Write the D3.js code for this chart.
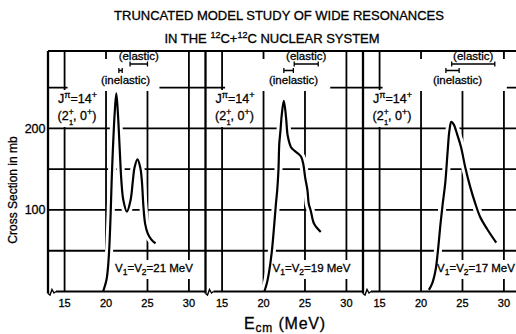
<!DOCTYPE html>
<html>
<head>
<meta charset="utf-8">
<script src="https://cdnjs.cloudflare.com/ajax/libs/d3/7.8.5/d3.min.js"></script>
<style>
  body { margin: 0; background: #fff; }
  svg { display: block; font-family: "Liberation Sans", Arial, sans-serif; }
  svg text { fill: #000; stroke: #000; stroke-width: 0.3px; }
</style>
</head>
<body>
<svg id="chart" width="516" height="334"></svg>
<script>
// energies (MeV) and cross sections (mb)
var e21 = [19.65, 20.05, 20.25, 20.4, 20.56, 20.68, 20.84, 21.04, 21.24, 21.44, 21.64, 21.85, 22.09, 22.52, 22.96, 23.24, 23.44, 23.8, 24.13, 24.32, 24.52, 24.72, 25.04, 25.45, 25.97];
var s21 = [0, 14, 31, 55, 96, 136, 177, 218, 243, 217, 177, 136, 112, 98, 112, 136, 152, 162, 152, 136, 103, 83, 71, 64, 59];

var e19 = [20.1, 20.4, 20.7, 21.0, 21.3, 21.5, 21.65, 21.8, 21.9, 22.05, 22.2, 22.45, 22.72, 22.92, 23.32, 23.7, 24.2, 24.55, 24.8, 25.02, 25.3, 25.45, 25.7, 26.1, 26.9];
var s19 = [0, 10, 26, 49, 83, 108, 124, 149, 181, 198, 217, 234, 213, 191, 177, 173, 169, 165, 156, 140, 124, 108, 99, 83, 73];

var e17 = [20.95, 21.35, 21.75, 22.03, 22.35, 22.62, 22.82, 22.95, 23.22, 23.42, 23.66, 23.94, 24.35, 24.83, 25.34, 25.94, 26.54, 27.15, 27.95, 29.07];
var s17 = [2, 10, 26, 49, 83, 108, 124, 136, 173, 197, 208, 205, 193, 177, 152, 128, 108, 91, 77, 60];

var potentials = ["21", "19", "17"];
var elasticBars = [[22.9, 25.0], [23.7, 26.6], [23.7, 28.9]];
var inelasticBars = [[21.55, 21.95], [22.45, 23.6], [23.0, 24.6]];

var xTicks = [15, 20, 25, 30];
var yGrid = [50, 100, 150, 200, 250];
var yLabels = [100, 200];

var svg = d3.select("#chart");
var left = 48, panelW = 157.5, plotTop = 51, base = 291.5;
var vShift = [106, 106, 113]; // where each V label sits inside its panel
var y = d3.scaleLinear().domain([0, 295]).range([base, plotTop]);

var panels = [
  {e: e21, s: s21, v: potentials[0], el: elasticBars[0], inel: inelasticBars[0]},
  {e: e19, s: s19, v: potentials[1], el: elasticBars[1], inel: inelasticBars[1]},
  {e: e17, s: s17, v: potentials[2], el: elasticBars[2], inel: inelasticBars[2]}
];

var gGrid = svg.append("g"), gMask = svg.append("g"), gCurve = svg.append("g"),
    gFrame = svg.append("g"), gText = svg.append("g");

function whiteBox(node, pad) {
  var b = node.getBBox();
  gMask.append("rect")
    .attr("x", b.x - pad).attr("y", b.y - pad)
    .attr("width", b.width + 2 * pad).attr("height", b.height + 2 * pad)
    .attr("fill", "#fff");
}

panels.forEach(function(p, i) {
  var x0 = left + i * panelW;
  var x = d3.scaleLinear().domain([13, 32]).range([x0, x0 + panelW]);

  // grid
  gGrid.selectAll(null).data(yGrid).join("line")
    .attr("x1", x0).attr("x2", x0 + panelW)
    .attr("y1", d => y(d)).attr("y2", d => y(d))
    .attr("stroke", "#000").attr("stroke-width", 1.8);
  gGrid.selectAll(null).data(xTicks).join("line")
    .attr("x1", d => x(d)).attr("x2", d => x(d))
    .attr("y1", plotTop).attr("y2", base)
    .attr("stroke", "#000").attr("stroke-width", 1.8);

  // erased area round the labels
  gMask.append("rect")
    .attr("x", x(15) + 3).attr("y", 59)
    .attr("width", x(p.el[1]) + 12 - x(15) - 3).attr("height", 32)
    .attr("fill", "#fff");
  gMask.append("rect")
    .attr("x", x0 + 5).attr("y", 90)
    .attr("width", 50).attr("height", 37)
    .attr("fill", "#fff");

  // curve
  var line = d3.line()
    .x((d, k) => x(p.e[k])).y(d => y(d))
    .curve(d3.curveCatmullRom.alpha(0.5));
  gCurve.append("path").attr("d", line(p.s))
    .attr("fill", "none").attr("stroke", "#fff").attr("stroke-width", 8);
  gCurve.append("path").attr("d", line(p.s))
    .attr("fill", "none").attr("stroke", "#000").attr("stroke-width", 2.2)
    .attr("stroke-linejoin", "round");

  // frame
  gFrame.append("line").attr("x1", x0).attr("x2", x0)
    .attr("y1", plotTop).attr("y2", base + 2)
    .attr("stroke", "#000").attr("stroke-width", 2.3);
  gFrame.append("line").attr("x1", x0 + 8).attr("x2", x0 + panelW)
    .attr("y1", base).attr("y2", base)
    .attr("stroke", "#000").attr("stroke-width", 2.2);
  gFrame.append("path")
    .attr("d", "M" + x0 + "," + (base + 2) + " l2,1.5 l2,-5.5 l2,3.5 l2,-1.5")
    .attr("fill", "none").attr("stroke", "#000").attr("stroke-width", 1.4);

  // error bars
  [[p.el, 64], [p.inel, 70.5]].forEach(function(b) {
    var a = x(b[0][0]), c = x(b[0][1]), yy = b[1];
    gText.append("path")
      .attr("d", "M" + a + "," + yy + "H" + c + "M" + a + "," + (yy - 2.5) + "v5M" + c + "," + (yy - 2.5) + "v5")
      .attr("fill", "none").attr("stroke", "#000").attr("stroke-width", 1.3);
  });

  var tEl = gText.append("text").attr("x", (x(p.el[0]) + x(p.el[1])) / 2).attr("y", 59.5)
    .attr("text-anchor", "middle").attr("font-size", 11.5).text("(elastic)");
  whiteBox(tEl.node(), 1.5);
  gText.append("text").attr("x", (x(p.inel[0]) + x(p.inel[1])) / 2 + 5).attr("y", 84)
    .attr("text-anchor", "middle").attr("font-size", 11.5).text("(inelastic)");

  // J label
  var j = gText.append("text").attr("x", x0 + 29.5).attr("y", 103)
    .attr("text-anchor", "middle").attr("font-size", 12.5);
  j.append("tspan").text("J");
  j.append("tspan").attr("dy", -5).attr("font-size", 9).text("π");
  j.append("tspan").attr("dy", 5).text("=14");
  j.append("tspan").attr("dy", -5).attr("font-size", 9).text("+");
  var q = gText.append("text").attr("x", x0 + 29).attr("y", 120)
    .attr("text-anchor", "middle").attr("font-size", 12.5);
  q.append("tspan").text("(2");
  q.append("tspan").attr("dy", -5.5).attr("font-size", 8.5).text("+");
  q.append("tspan").attr("dx", -4.8).attr("dy", 10).attr("font-size", 7.5).text("1");
  q.append("tspan").attr("dy", -4.5).text(", 0");
  q.append("tspan").attr("dy", -5).attr("font-size", 9).text("+");
  q.append("tspan").attr("dy", 5).text(")");

  // V label
  var v = gText.append("text").attr("x", x0 + vShift[i]).attr("y", 272)
    .attr("text-anchor", "middle").attr("font-size", 11.5);
  v.append("tspan").text("V");
  v.append("tspan").attr("dy", 3).attr("font-size", 8.5).text("1");
  v.append("tspan").attr("dy", -3).text("=V");
  v.append("tspan").attr("dy", 3).attr("font-size", 8.5).text("2");
  v.append("tspan").attr("dy", -3).text("=" + p.v + " MeV");
  whiteBox(v.node(), 2);

  // tick labels
  gText.selectAll(null).data(xTicks).join("text")
    .attr("x", d => x(d)).attr("y", 307)
    .attr("text-anchor", "middle").attr("font-size", 11)
    .text(d => d);
});

// top border
gFrame.append("line").attr("x1", left).attr("x2", 516)
  .attr("y1", plotTop).attr("y2", plotTop)
  .attr("stroke", "#000").attr("stroke-width", 2);

// y labels
gText.selectAll(null).data(yLabels).join("text")
  .attr("x", 45.5).attr("y", d => y(d)).attr("dy", "0.36em")
  .attr("text-anchor", "end").attr("font-size", 12.5)
  .text(d => d);

gText.append("text")
  .attr("transform", "translate(17,190) rotate(-90)")
  .attr("text-anchor", "middle").attr("font-size", 12)
  .text("Cross Section in mb");

// x label
var xl = gText.append("text").attr("x", 285).attr("y", 329)
  .attr("text-anchor", "middle").attr("font-size", 16)
  .attr("letter-spacing", 0.8);
xl.append("tspan").text("E");
xl.append("tspan").attr("dy", 3).attr("font-size", 12).text("cm");
xl.append("tspan").attr("dy", -3).text(" (MeV)");

// title
gText.append("text").attr("x", 279).attr("y", 20)
  .attr("text-anchor", "middle").attr("font-size", 13)
  .text("TRUNCATED MODEL STUDY OF WIDE RESONANCES");
var t2 = gText.append("text").attr("x", 272).attr("y", 43)
  .attr("text-anchor", "middle").attr("font-size", 13);
t2.append("tspan").text("IN THE ");
t2.append("tspan").attr("dy", -5).attr("font-size", 9).text("12");
t2.append("tspan").attr("dy", 5).text("C+");
t2.append("tspan").attr("dy", -5).attr("font-size", 9).text("12");
t2.append("tspan").attr("dy", 5).text("C NUCLEAR SYSTEM");
</script>
</body>
</html>
